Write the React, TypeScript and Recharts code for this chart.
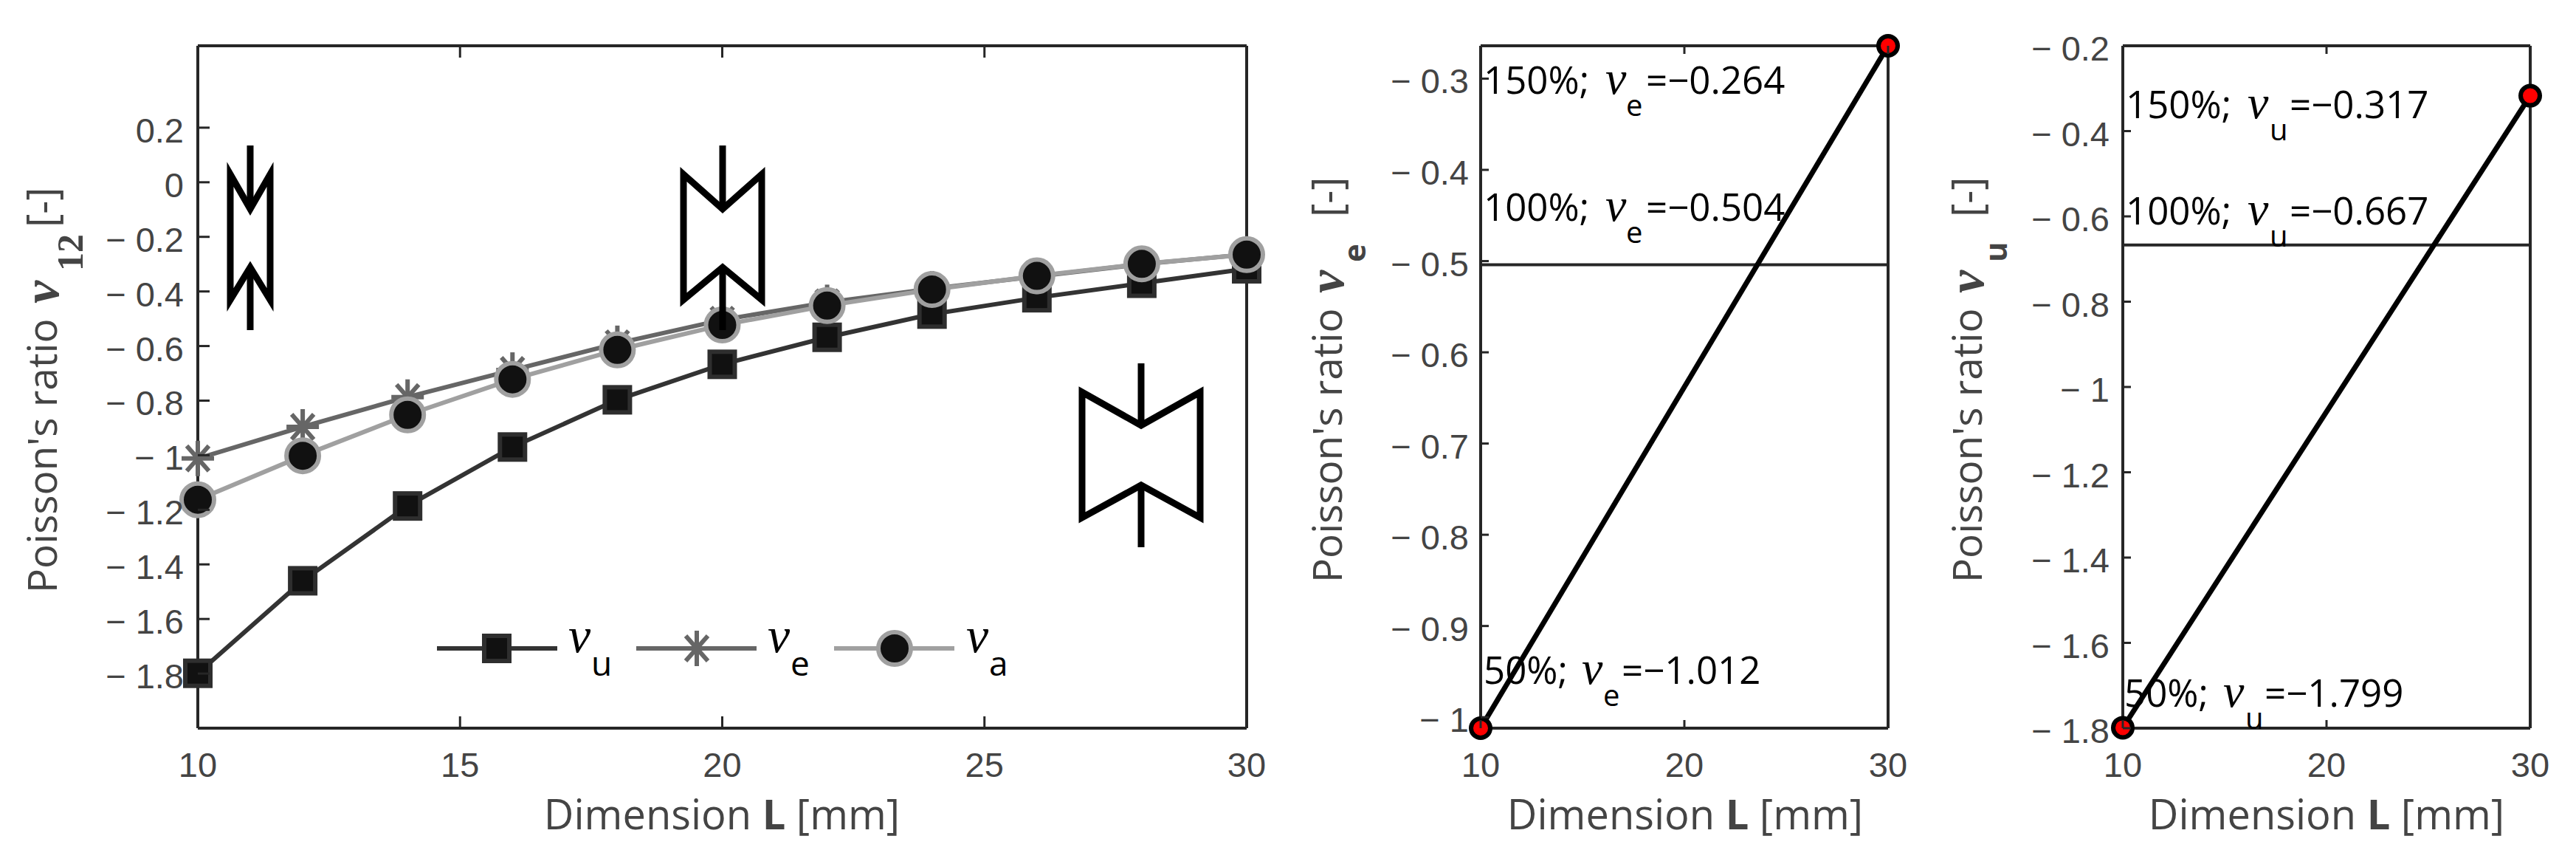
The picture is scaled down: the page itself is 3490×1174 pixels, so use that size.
import { LineChart, Line, XAxis, YAxis, ReferenceLine } from "recharts";

const lengths = [10, 12, 14, 16, 18, 20, 22, 24, 26, 28, 30];
const nuU = [-1.799, -1.46, -1.186, -0.97, -0.797, -0.667, -0.568, -0.483, -0.423, -0.37, -0.317];
const nuE = [-1.012, -0.896, -0.787, -0.688, -0.59, -0.504, -0.44, -0.39, -0.345, -0.3, -0.264];
const nuA = [-1.163, -1.002, -0.852, -0.722, -0.614, -0.523, -0.452, -0.393, -0.343, -0.299, -0.265];

const mainXTicks = [10, 15, 20, 25, 30];
const mainYTicks = [-1.8, -1.6, -1.4, -1.2, -1, -0.8, -0.6, -0.4, -0.2, 0, 0.2];

const fitLengths = [10, 30];
const fitNuE = [-1.012, -0.264];
const fitNuU = [-1.799, -0.317];
const fitXTicks = [10, 20, 30];
const eYTicks = [-1, -0.9, -0.8, -0.7, -0.6, -0.5, -0.4, -0.3];
const uYTicks = [-1.8, -1.6, -1.4, -1.2, -1, -0.8, -0.6, -0.4, -0.2];
const nominalNuE = -0.504;
const nominalNuU = -0.667;

const mainRows = lengths.map((L, i) => ({ L, u: nuU[i], e: nuE[i], a: nuA[i] }));
const eRows = fitLengths.map((L, i) => ({ L, v: fitNuE[i] }));
const uRows = fitLengths.map((L, i) => ({ L, v: fitNuU[i] }));

const SANS = "'Open Sans'";
const AXIS_GREY = "#444444";
const BOX = "#262626";
const TICK_FONT = "'Liberation Sans'";

const formatTick = (v: number) => (v < 0 ? `\u2212 ${Math.abs(v)}` : `${v}`);

function SquareMark({ cx, cy }: { cx: number; cy: number }) {
  return <rect x={cx - 17} y={cy - 17} width={34} height={34} fill="#111" stroke="#2e2e2e" strokeWidth={6} />;
}

function StarMark({ cx, cy }: { cx: number; cy: number }) {
  return (
    <g stroke="#666" strokeWidth={6} fill="none">
      <line x1={cx} y1={cy - 24} x2={cx} y2={cy + 24} />
      <line x1={cx - 22} y1={cy} x2={cx + 22} y2={cy} />
      <line x1={cx - 15} y1={cy - 17} x2={cx + 15} y2={cy + 17} />
      <line x1={cx - 15} y1={cy + 17} x2={cx + 15} y2={cy - 17} />
    </g>
  );
}

function CircleMark({ cx, cy }: { cx: number; cy: number }) {
  return <circle cx={cx} cy={cy} r={22} fill="#111" stroke="#a0a0a0" strokeWidth={6} />;
}

function EndMark({ cx, cy }: { cx: number; cy: number }) {
  return <circle cx={cx} cy={cy} r={13} fill="#f00" stroke="#000" strokeWidth={6} />;
}

const markDot = (Mark: typeof SquareMark) => (p: any) => <Mark key={p.key ?? p.index} cx={p.cx} cy={p.cy} />;

// inward ticks, drawn together with the label so both sides of the box get them
const tickMark = { stroke: BOX, strokeWidth: 3 };

const leftTick = (len: number, gap: number) => (p: any) => (
  <g key={p.index}>
    <line x1={p.x} y1={p.y} x2={p.x + len} y2={p.y} {...tickMark} />
    <text x={p.x - gap} y={p.y + 20} textAnchor="end" fontFamily={TICK_FONT} fontSize={47} fill={AXIS_GREY}>
      {formatTick(p.payload.value)}
    </text>
  </g>
);

const rightTick = (len: number) => (p: any) => (
  <line key={p.index} x1={p.x} y1={p.y} x2={p.x - len} y2={p.y} {...tickMark} />
);

const bottomTick = (len: number) => (p: any) => (
  <g key={p.index}>
    <line x1={p.x} y1={p.y} x2={p.x} y2={p.y - len} {...tickMark} />
    <text x={p.x} y={p.y + 66} textAnchor="middle" fontFamily={TICK_FONT} fontSize={47} fill={AXIS_GREY}>
      {p.payload.value}
    </text>
  </g>
);

const topTick = (len: number) => (p: any) => (
  <line key={p.index} x1={p.x} y1={p.y} x2={p.x} y2={p.y + len} {...tickMark} />
);

const CHART_LEFT = 268;
const CHART_H = 1174;
const chartMargin = { top: 61, right: 59, bottom: 88, left: 0 };

function BoxAxes({
  xTicks,
  yTicks,
  yDomain,
  tickLen,
  labelGap,
}: {
  xTicks: number[];
  yTicks: number[];
  yDomain: number[];
  tickLen: number;
  labelGap: number;
}) {
  const lineProps = { stroke: BOX, strokeWidth: 4 };
  const shared = { type: "number" as const, interval: 0, tickLine: false, tickSize: 0, tickMargin: 0, axisLine: lineProps };
  return [
    <XAxis key="xb" {...shared} dataKey="L" domain={[10, 30]} ticks={xTicks} height={100} tick={bottomTick(tickLen)} />,
    <XAxis
      key="xt"
      {...shared}
      xAxisId="top"
      orientation="top"
      dataKey="L"
      domain={[10, 30]}
      ticks={xTicks}
      height={1}
      tick={topTick(tickLen)}
    />,
    <YAxis key="yl" {...shared} domain={yDomain} ticks={yTicks} width={CHART_LEFT} tick={leftTick(tickLen, labelGap)} />,
    <YAxis
      key="yr"
      {...shared}
      yAxisId="right"
      orientation="right"
      domain={yDomain}
      ticks={yTicks}
      width={1}
      tick={rightTick(tickLen)}
    />,
  ];
}

function Panel({ left, plotW, rows, children }: { left: number; plotW: number; rows: any[]; children: any }) {
  return (
    <div style={{ position: "absolute", left, top: 0 }}>
      <LineChart width={CHART_LEFT + plotW + 60} height={CHART_H} data={rows} margin={chartMargin}>
        {children}
      </LineChart>
    </div>
  );
}

function FitPanel({
  left,
  plotW,
  rows,
  yTicks,
  yDomain,
  nominal,
  labelGap,
}: {
  left: number;
  plotW: number;
  rows: any[];
  yTicks: number[];
  yDomain: number[];
  nominal: number;
  labelGap: number;
}) {
  return (
    <Panel left={left} plotW={plotW} rows={rows}>
      {BoxAxes({ xTicks: fitXTicks, yTicks, yDomain, tickLen: 11, labelGap })}
      <ReferenceLine y={nominal} stroke={BOX} strokeWidth={4} />
      <Line dataKey="v" stroke="#000" strokeWidth={7} dot={markDot(EndMark)} isAnimationActive={false} />
    </Panel>
  );
}

function Bowtie({
  cx,
  half,
  top,
  dipTop,
  dipBottom,
  bottom,
  arrowTop,
  arrowBottom,
}: {
  cx: number;
  half: number;
  top: number;
  dipTop: number;
  dipBottom: number;
  bottom: number;
  arrowTop: number;
  arrowBottom: number;
}) {
  return (
    <g fill="none" stroke="#000" strokeWidth={9}>
      <path
        d={`M${cx - half} ${top}L${cx} ${dipTop}L${cx + half} ${top}V${bottom}L${cx} ${dipBottom}L${cx - half} ${bottom}Z`}
      />
      <line x1={cx} y1={arrowTop} x2={cx} y2={dipTop} />
      <line x1={cx} y1={dipBottom} x2={cx} y2={arrowBottom} />
    </g>
  );
}

function YTitle({
  x,
  y,
  sub,
  subFont,
  subSize,
  subDx,
  subLift,
}: {
  x: number;
  y: number;
  sub: string;
  subFont: string;
  subSize: number;
  subDx: number;
  subLift: number;
}) {
  return (
    <g transform={`translate(${x} ${y}) rotate(-90)`}>
      <text fontFamily={SANS} fontSize={55} fill={AXIS_GREY}>
        Poisson's ratio
      </text>
      <text x={392} y={2} fontFamily="'Liberation Serif'" fontStyle="italic" fontWeight="bold" fontSize={70} fill={AXIS_GREY}>
        ν
      </text>
      <text x={subDx} y={subLift} fontFamily={subFont} fontWeight="bold" fontSize={subSize} fill={AXIS_GREY}>
        {sub}
      </text>
      <text x={495} fontFamily={SANS} fontSize={56} fill={AXIS_GREY}>
        [-]
      </text>
    </g>
  );
}

function XTitle({ cx }: { cx: number }) {
  return (
    <text x={cx} y={1123} textAnchor="middle" fontFamily={SANS} fontSize={56} fill={AXIS_GREY}>
      Dimension <tspan fontWeight="bold">L</tspan> [mm]
    </text>
  );
}

function Note({
  x,
  y,
  pct,
  sub,
  value,
  nuDx,
  subDx,
  eqDx,
}: {
  x: number;
  y: number;
  pct: string;
  sub: string;
  value: string;
  nuDx: number;
  subDx: number;
  eqDx: number;
}) {
  return (
    <g fill="#000">
      <text x={x} y={y} fontFamily={SANS} fontSize={51}>
        {pct}
      </text>
      <text x={x + nuDx} y={y} fontFamily="'Liberation Serif'" fontStyle="italic" fontSize={64}>
        ν
      </text>
      <text x={x + subDx} y={y + 30} fontFamily={SANS} fontSize={40}>
        {sub}
      </text>
      <text x={x + eqDx} y={y} fontFamily={SANS} fontSize={51}>
        ={value}
      </text>
    </g>
  );
}

function LegendEntry({
  x1,
  x2,
  color,
  width,
  mark,
  labelX,
  sub,
}: {
  x1: number;
  x2: number;
  color: string;
  width: number;
  mark: any;
  labelX: number;
  sub: string;
}) {
  return (
    <g>
      <line x1={x1} y1={878} x2={x2} y2={878} stroke={color} strokeWidth={width} />
      {mark}
      <text x={labelX} y={883} fontFamily="'Liberation Serif'" fontStyle="italic" fontSize={68} fill="#000">
        ν
      </text>
      <text x={labelX + 31} y={915} fontFamily={SANS} fontSize={46} fill="#000">
        {sub}
      </text>
    </g>
  );
}

export default function App() {
  return (
    <div style={{ position: "absolute", left: 0, top: 0, width: 3490, height: 1174, background: "#fff", overflow: "hidden" }}>
      <Panel left={0} plotW={1421} rows={mainRows}>
        {BoxAxes({ xTicks: mainXTicks, yTicks: mainYTicks, yDomain: [-2, 0.5], tickLen: 16, labelGap: 19 })}
        <Line dataKey="u" stroke="#333" strokeWidth={6} dot={markDot(SquareMark)} isAnimationActive={false} />
        <Line dataKey="e" stroke="#666" strokeWidth={6} dot={markDot(StarMark)} isAnimationActive={false} />
        <Line dataKey="a" stroke="#a0a0a0" strokeWidth={6} dot={markDot(CircleMark)} isAnimationActive={false} />
      </Panel>
      <FitPanel left={2006 - CHART_LEFT} plotW={552} rows={eRows} yTicks={eYTicks} yDomain={[-1.012, -0.264]} nominal={nominalNuE} labelGap={16} />
      <FitPanel left={2876 - CHART_LEFT} plotW={552} rows={uRows} yTicks={uYTicks} yDomain={[-1.8, -0.2]} nominal={nominalNuU} labelGap={18} />

      <svg width={3490} height={1174} style={{ position: "absolute", left: 0, top: 0, pointerEvents: "none" }}>
        <Bowtie cx={339} half={27} top={236} dipTop={283} dipBottom={362} bottom={406} arrowTop={197} arrowBottom={447} />
        <Bowtie cx={979} half={53} top={236} dipTop={283} dipBottom={362} bottom={406} arrowTop={197} arrowBottom={447} />
        <Bowtie cx={1546} half={80} top={531} dipTop={576} dipBottom={657} bottom={701} arrowTop={492} arrowBottom={741} />

        <LegendEntry x1={592} x2={755} color="#333" width={6} mark={<SquareMark cx={673} cy={878} />} labelX={770} sub="u" />
        <LegendEntry x1={862} x2={1025} color="#666" width={6} mark={<StarMark cx={944} cy={878} />} labelX={1040} sub="e" />
        <LegendEntry x1={1130} x2={1293} color="#a0a0a0" width={6} mark={<CircleMark cx={1212} cy={878} />} labelX={1309} sub="a" />

        <YTitle x={77} y={803} sub="12" subFont="'Liberation Serif'" subSize={50} subDx={436} subLift={35} />
        <YTitle x={1818} y={789} sub="e" subFont={SANS} subSize={42} subDx={434} subLift={32} />
        <YTitle x={2685} y={789} sub="u" subFont={SANS} subSize={42} subDx={434} subLift={34} />
        <XTitle cx={978} />
        <XTitle cx={2283} />
        <XTitle cx={3152} />

        <Note x={2010} y={127} pct="150%;" sub="e" value={"\u22120.264"} nuDx={165} subDx={193} eqDx={220} />
        <Note x={2010} y={299} pct="100%;" sub="e" value={"\u22120.504"} nuDx={165} subDx={193} eqDx={220} />
        <Note x={2010} y={926} pct="50%;" sub="e" value={"\u22121.012"} nuDx={133} subDx={162} eqDx={187} />
        <Note x={2880} y={160} pct="150%;" sub="u" value={"\u22120.317"} nuDx={165} subDx={195} eqDx={222} />
        <Note x={2880} y={304} pct="100%;" sub="u" value={"\u22120.667"} nuDx={165} subDx={195} eqDx={222} />
        <Note x={2878} y={957} pct="50%;" sub="u" value={"\u22121.799"} nuDx={134} subDx={164} eqDx={190} />
      </svg>
    </div>
  );
}
